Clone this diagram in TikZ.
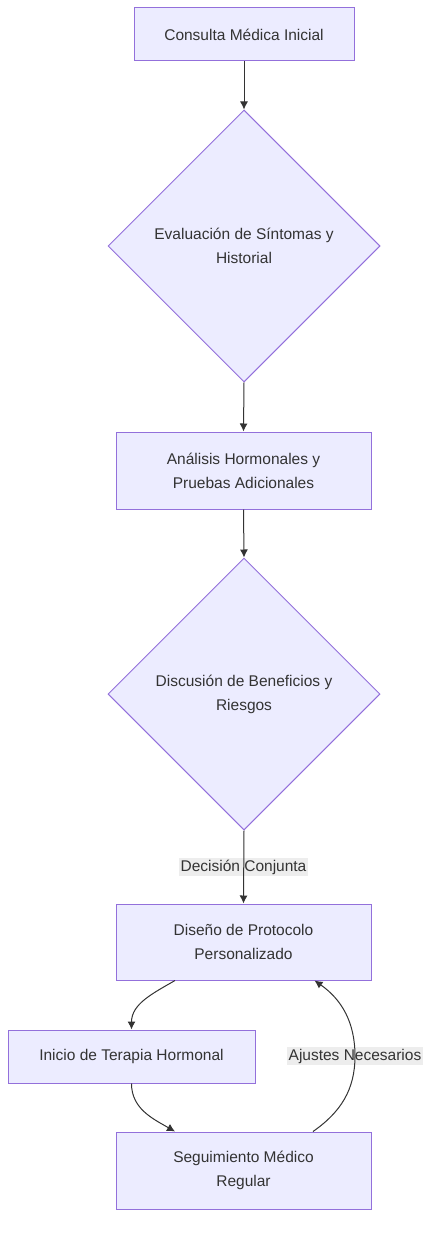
\documentclass[tikz,border=0pt]{standalone}
\usepackage{fontspec}
\setmainfont{Liberation Sans}
\usepackage{xcolor}
\usetikzlibrary{arrows.meta,shapes.geometric}
\definecolor{boxfill}{HTML}{ECECFF}
\definecolor{boxline}{HTML}{9370DB}
\definecolor{inkgray}{HTML}{333333}
\definecolor{labelbg}{HTML}{E8E8E8}
\tikzset{
	stepbox/.style={
			draw=boxline, fill=boxfill, line width=1pt, text=inkgray,
			align=center, inner sep=0pt, minimum height=53pt,
			font=\fontsize{15.5}{24}\selectfont
		},
	choice/.style={
			diamond, aspect=1, draw=boxline, fill=boxfill, line width=1pt,
			text=inkgray, align=center, inner sep=0pt, minimum size=272pt,
			font=\fontsize{15.5}{24}\selectfont
		},
	edgelabel/.style={
			fill=labelbg, fill opacity=0.8, text opacity=1, text=inkgray,
			inner sep=2pt, font=\fontsize{15.5}{20}\selectfont
		},
	flow/.style={draw=inkgray, line width=1pt, -{Latex[length=8pt,width=8pt]}}
}

\begin{document}
\begin{tikzpicture}[x=1pt,y=1pt]
		\useasboundingbox (0,0) rectangle (437,-1238);

		% Draw the main column of steps
		\node[stepbox, minimum width=220pt] (consulta) at (244,-34.5) {Consulta Médica Inicial};
		\node[choice] (evaluacion) at (244,-246) {Evaluación de Síntomas y\\Historial};
		\node[stepbox, minimum width=255pt, minimum height=77pt] (analisis) at (243.5,-470.5) {Análisis Hormonales y\\ Pruebas Adicionales};
		\node[choice] (discusion) at (244,-694) {Discusión de Beneficios y\\Riesgos};
		\node[stepbox, minimum width=255pt, minimum height=76pt] (diseno) at (243.5,-942) {Diseño de Protocolo\\ Personalizado};

		% Draw the treatment loop
		\node[stepbox, minimum width=247pt] (inicio) at (131.5,-1056.5) {Inicio de Terapia Hormonal};
		\node[stepbox, minimum width=255pt, minimum height=77pt] (seguimiento) at (243.5,-1170.5) {Seguimiento Médico\\Regular};

		% Mark the label positions
		\coordinate (decision) at (243.5,-867);
		\coordinate (ajustes) at (355,-1056);
		\node[edgelabel] (decisionlbl) at (decision) {Decisión Conjunta};
		\node[edgelabel] (ajusteslbl) at (ajustes) {Ajustes Necesarios};

		% Draw the straight connectors
		\draw[flow] (consulta.south) -- (evaluacion.north);
		\draw[flow] (evaluacion.south) -- (analisis.north);
		\draw[flow] (analisis.south) -- (discusion.north);
		\draw[flow] (discusion.south) -- (diseno.north);

		% Draw the curved connectors
		\draw[flow] ([xshift=-68.5pt]diseno.south) to[out=-150,in=90] (inicio.north);
		\draw[flow] (inicio.south) to[out=-90,in=150] ([xshift=-68.5pt]seguimiento.north);
		\draw[flow] ([xshift=69.5pt]seguimiento.north) to[out=35,in=-90] (ajustes) to[out=90,in=-35] ([xshift=71pt]diseno.south);
	\end{tikzpicture}
\end{document}
